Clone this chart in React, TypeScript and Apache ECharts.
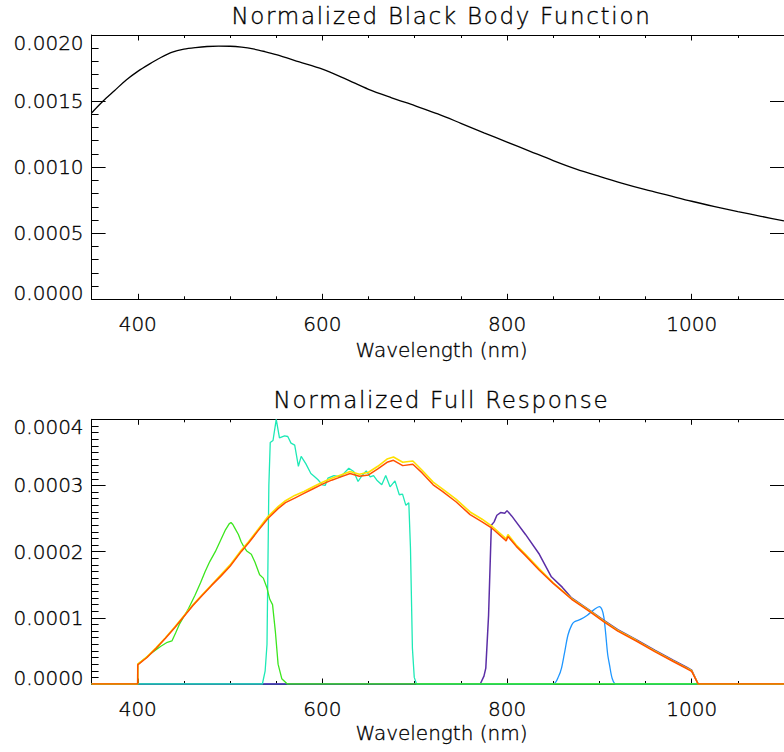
import React, { useEffect, useRef } from 'react';
import * as echarts from 'echarts';

// ---------- data ----------
const X_MIN = 350;
const X_MAX = 1100;
const X_MAJOR_TICKS = [400, 600, 800, 1000];

const TOP_TITLE = 'Normalized Black Body Function';
const BOTTOM_TITLE = 'Normalized Full Response';
const X_NAME = 'Wavelength (nm)';

// Black body curve [wavelength, value]
const blackBody: number[][] = [
  [350, 0.00141], [362.5, 0.0015], [375, 0.00158], [387.5, 0.00166], [400, 0.001725],
  [412.5, 0.00178], [425, 0.00183], [437.5, 0.001871], [450, 0.001893], [462.5, 0.001905],
  [475, 0.001913], [487.5, 0.001916], [500, 0.001915], [512.5, 0.001908], [525, 0.001895],
  [537.5, 0.001875], [550, 0.001852], [575, 0.001797], [600, 0.001742], [625, 0.001668],
  [650, 0.001589], [675, 0.001525], [700, 0.001465], [725, 0.001403], [750, 0.001332],
  [775, 0.00126], [800, 0.00119], [825, 0.00112], [850, 0.00105], [875, 0.000985],
  [900, 0.00093], [925, 0.000878], [950, 0.00083], [975, 0.000786], [1000, 0.000742],
  [1025, 0.000702], [1050, 0.000664], [1075, 0.000628], [1100, 0.000593],
];

// Full response (yellow, drawn under the red one)
const fullYellow: number[][] = [
  [350, 0], [399.9, 0], [400, 0.00003], [410, 0.000041], [420, 0.000055], [430, 0.00007],
  [440, 0.000086], [450, 0.000103], [460, 0.00012], [470, 0.000135], [480, 0.00015],
  [490, 0.000165], [500, 0.00018], [512, 0.000202], [520, 0.000215], [530, 0.000233],
  [541, 0.000253], [552, 0.000268], [560, 0.000277], [570, 0.000285], [580, 0.000291],
  [590, 0.000298], [600, 0.000305], [610, 0.000311], [620, 0.000316], [630, 0.000321],
  [640, 0.000317], [650, 0.00032], [660, 0.000329], [670, 0.00034], [677, 0.000343],
  [687, 0.000335], [698, 0.000337], [708, 0.000323], [720, 0.000305], [730, 0.000295],
  [745, 0.000279], [760, 0.00026], [773, 0.000249], [784, 0.000238], [797, 0.000222],
  [799, 0.000219], [801, 0.000226], [810, 0.00021], [820, 0.000196], [835, 0.000174],
  [850, 0.000153], [870, 0.000129], [890, 0.00011], [905, 0.000095], [920, 0.000081],
  [940, 0.000066], [960, 0.00005], [980, 0.000035], [995, 0.000024], [1000, 0.00002],
  [1007, 0], [1100, 0],
];

// Full response (red / orange)
const fullRed: number[][] = [
  [350, 0], [399.9, 0], [400, 0.000029], [410, 0.00004], [420, 0.000054], [430, 0.000069],
  [440, 0.000085], [450, 0.000102], [460, 0.000119], [470, 0.000134], [480, 0.000149],
  [490, 0.000163], [500, 0.000178], [512, 0.0002], [520, 0.000213], [530, 0.000231],
  [541, 0.00025], [552, 0.000265], [560, 0.000274], [570, 0.000281], [580, 0.000288],
  [590, 0.000295], [600, 0.000302], [610, 0.000308], [620, 0.000313], [630, 0.000318],
  [640, 0.000314], [650, 0.000316], [660, 0.000325], [670, 0.000335], [677, 0.000338],
  [687, 0.00033], [698, 0.000332], [708, 0.000319], [720, 0.000301], [730, 0.000291],
  [745, 0.000275], [760, 0.000256], [773, 0.000245], [784, 0.000235], [797, 0.000219],
  [799, 0.000216], [801, 0.000223], [810, 0.000208], [820, 0.000194], [835, 0.000172],
  [850, 0.000152], [870, 0.000128], [890, 0.000109], [905, 0.000094], [920, 0.00008],
  [940, 0.000065], [960, 0.000049], [980, 0.000034], [995, 0.000023], [1000, 0.000019],
  [1007, 0], [1100, 0],
];

// Blue filter response (green line)
const filterGreen: number[][] = [
  [350, 0], [399.9, 0], [400, 0.00003], [408, 0.000039], [415, 0.000047], [425, 0.000057],
  [432, 0.000063], [437, 0.000065], [441, 0.000077], [445, 0.00009], [450, 0.000102],
  [455, 0.000114], [462, 0.000134], [468, 0.000153], [473, 0.00017], [478, 0.000185],
  [484, 0.0002], [490, 0.000218], [495, 0.000233], [499, 0.000242], [501, 0.000244],
  [503, 0.000241], [505, 0.000236], [509, 0.000226], [512, 0.000215], [515, 0.000207],
  [518, 0.000201], [523, 0.000196], [527, 0.000184], [532, 0.000165], [536, 0.00016],
  [540, 0.000145], [543, 0.000128], [546, 0.00012], [549, 0.00008], [552, 0.00003],
  [556, 0.000008], [562, 0], [1100, 0],
];

// Green filter response (cyan line)
const filterCyan: number[][] = [
  [350, 0], [535, 0], [538, 0.00002], [540, 0.00006], [542, 0.0003], [543.5, 0.000365],
  [546.5, 0.000368], [550, 0.0004], [553.5, 0.000372], [559, 0.000375], [562.5, 0.000374],
  [566, 0.000364], [570, 0.000361], [574, 0.000329], [577, 0.000344], [582, 0.000333],
  [587.5, 0.000318], [591, 0.000314], [595, 0.000309], [600, 0.000301], [603, 0.0003],
  [606, 0.000311], [612.5, 0.000315], [619.6, 0.000313], [628.6, 0.000326], [633.9, 0.000321],
  [638.6, 0.000306], [642.9, 0.000315], [647.5, 0.000322], [651.8, 0.000313], [655.4, 0.000315],
  [659, 0.000308], [664.3, 0.000301], [668.6, 0.000315], [673.3, 0.000298], [678.6, 0.000307],
  [683.3, 0.000286], [686.8, 0.000287], [690.4, 0.00027], [693.6, 0.000274], [695.4, 0.000205],
  [697.5, 0.000054], [699.5, 0.00001], [702, 0], [1100, 0],
];

// Red filter response (purple line)
const filterPurple: number[][] = [
  [350, 0], [771, 0], [775, 0.000012], [777, 0.000024], [780, 0.000104], [783, 0.00024],
  [786, 0.000245], [789, 0.000255], [793, 0.000259], [797.5, 0.000258], [800, 0.000262],
  [805, 0.000254], [820, 0.000226], [835, 0.000196], [848, 0.000162], [860, 0.000146],
  [870, 0.00013], [890, 0.000111], [905, 0.000096], [920, 0.000082], [940, 0.000067],
  [960, 0.000051], [980, 0.000036], [995, 0.000025], [1000, 0.000021], [1007, 0], [1100, 0],
];

// Near-IR filter response (light blue line)
const filterLightBlue: number[][] = [
  [350, 0], [850, 0], [856, 0.000012], [859, 0.000024], [862, 0.000045], [866, 0.000074],
  [870, 0.000089], [873, 0.000094], [880, 0.000098], [887, 0.000104], [894, 0.000112],
  [900, 0.000117], [903, 0.000112], [905, 0.0001], [907, 0.000074], [909, 0.000045],
  [911, 0.000029], [914, 0.000008], [918, 0], [1100, 0],
];

// ---------- styling ----------
const FONT = 'DejaVu Sans';
const TEXT_COLOR = '#000';
const AXIS_COLOR = '#000';
const TEXT_EDGE = 0.35;
const GRID_LEFT = 91.6;
const GRID_WIDTH = 699.7;
const GRIDS = [
  { top: 35, height: 264.3 },
  { top: 419.3, height: 264.7 },
];

function xAxesFor(gridIndex: number) {
  const base = {
    type: 'value',
    gridIndex,
    min: X_MIN,
    max: X_MAX,
    splitLine: { show: false },
  };
  const line = { show: true, onZero: false, lineStyle: { color: AXIS_COLOR, width: 1 } };
  return [
    {
      ...base,
      position: 'bottom',
      axisLine: line,
      axisTick: { show: true, inside: true, length: 5.5, customValues: X_MAJOR_TICKS, lineStyle: { color: AXIS_COLOR } },
      axisLabel: {
        show: true,
        customValues: X_MAJOR_TICKS,
        margin: 15,
        fontSize: 20,
        fontFamily: FONT,
        fontWeight: 200,
        color: TEXT_COLOR,
        textBorderColor: TEXT_COLOR,
        textBorderWidth: TEXT_EDGE,
        formatter: (v: number) => String(Math.round(v)),
      },
    },
    {
      ...base,
      position: 'bottom',
      interval: 50,
      axisLine: { show: false, onZero: false },
      axisTick: { show: true, inside: true, length: 3, lineStyle: { color: AXIS_COLOR } },
      axisLabel: { show: false },
    },
    {
      ...base,
      position: 'top',
      axisLine: line,
      axisTick: { show: true, inside: true, length: 5.5, customValues: X_MAJOR_TICKS, lineStyle: { color: AXIS_COLOR } },
      axisLabel: { show: false },
    },
    {
      ...base,
      position: 'top',
      interval: 50,
      axisLine: { show: false, onZero: false },
      axisTick: { show: true, inside: true, length: 3, lineStyle: { color: AXIS_COLOR } },
      axisLabel: { show: false },
    },
  ];
}

function yAxesFor(gridIndex: number, max: number, interval: number, minorSplit: number) {
  const labelStyle = {
    fontSize: 20,
    fontFamily: FONT,
    fontWeight: 200,
    color: TEXT_COLOR,
    textBorderColor: TEXT_COLOR,
    textBorderWidth: TEXT_EDGE,
  };
  const base = {
    type: 'value',
    gridIndex,
    min: 0,
    max,
    interval,
    splitLine: { show: false },
    minorSplitLine: { show: false },
  };
  const line = { show: true, onZero: false, lineStyle: { color: AXIS_COLOR, width: 1 } };
  return [
    {
      ...base,
      position: 'left',
      axisLine: line,
      axisTick: { show: true, inside: true, length: 14, lineStyle: { color: AXIS_COLOR } },
      minorTick: { show: true, splitNumber: minorSplit, length: 7, lineStyle: { color: AXIS_COLOR } },
      axisLabel: {
        show: true,
        margin: 8,
        ...labelStyle,
        formatter: (v: number) => {
          const s = v.toFixed(4);
          if (Math.abs(v) < 1e-12) return '{lo|' + s + '}';
          if (Math.abs(v - max) < 1e-12) return '{hi|' + s + '}';
          return s;
        },
        rich: {
          lo: { ...labelStyle, padding: [0, 0, 13, 0] },
          hi: { ...labelStyle, padding: [15, 0, 0, 0] },
        },
      },
    },
    {
      ...base,
      position: 'right',
      axisLine: line,
      axisTick: { show: true, inside: true, length: 14, lineStyle: { color: AXIS_COLOR } },
      axisLabel: { show: false },
    },
  ];
}

function lineSeries(data: number[][], color: string, width: number, xAxisIndex: number, yAxisIndex: number, smooth: number | boolean = false) {
  return {
    type: 'line',
    data,
    xAxisIndex,
    yAxisIndex,
    showSymbol: false,
    symbol: 'none',
    smooth,
    clip: true,
    lineStyle: { color, width },
    emphasis: { disabled: true },
    silent: true,
  };
}

function buildOption() {
  const textStyle = { fontFamily: FONT, fontWeight: 200, fill: TEXT_COLOR, stroke: TEXT_COLOR, lineWidth: TEXT_EDGE };
  const centerX = GRID_LEFT + GRID_WIDTH / 2;
  return {
    animation: false,
    backgroundColor: '#fff',
    grid: GRIDS.map((g) => ({ left: GRID_LEFT, width: GRID_WIDTH, top: g.top, height: g.height, containLabel: false })),
    xAxis: [...xAxesFor(0), ...xAxesFor(1)],
    yAxis: [...yAxesFor(0, 0.002, 0.0005, 5), ...yAxesFor(1, 0.0004, 0.0001, 10)],
    graphic: [
      { type: 'text', x: centerX, y: 16, style: { ...textStyle, text: TOP_TITLE, fontSize: 23, align: 'center', verticalAlign: 'middle' } },
      { type: 'text', x: centerX, y: 350, style: { ...textStyle, text: X_NAME, fontSize: 20, align: 'center', verticalAlign: 'middle' } },
      { type: 'text', x: centerX, y: 399.5, style: { ...textStyle, text: BOTTOM_TITLE, fontSize: 23, align: 'center', verticalAlign: 'middle' } },
      { type: 'text', x: centerX, y: 733, style: { ...textStyle, text: X_NAME, fontSize: 20, align: 'center', verticalAlign: 'middle' } },
    ],
    series: [
      lineSeries(blackBody, '#000', 1.3, 0, 0, 0.3),
      lineSeries(filterLightBlue, '#1e96ff', 1.3, 4, 2, 0.3),
      lineSeries(filterPurple, '#5b2ea6', 1.5, 4, 2),
      lineSeries(filterCyan, '#1de9b6', 1.3, 4, 2),
      lineSeries(filterGreen, '#3ce61e', 1.3, 4, 2),
      lineSeries(fullYellow, '#ffe000', 1.6, 4, 2),
      lineSeries(fullRed, '#ff5000', 1.5, 4, 2),
    ],
  };
}

export default function App() {
  const ref = useRef<HTMLDivElement>(null);
  useEffect(() => {
    const el = ref.current;
    if (!el) return;
    const chart = echarts.init(el, null, { renderer: 'svg' });
    const spaceTitles = () => {
      el.querySelectorAll('text').forEach((t) => {
        const s = t.textContent || '';
        if (s === TOP_TITLE || s === BOTTOM_TITLE) {
          (t as SVGTextElement).style.letterSpacing = '1.7px';
        }
      });
    };
    chart.on('finished', spaceTitles);
    chart.setOption(buildOption() as any);
    spaceTitles();
    const timer = window.setTimeout(spaceTitles, 50);
    return () => {
      window.clearTimeout(timer);
      chart.dispose();
    };
  }, []);
  return (
    <div
      ref={ref}
      style={{ position: 'fixed', left: 0, top: 0, width: 784, height: 752, background: '#fff', overflow: 'hidden' }}
    />
  );
}
